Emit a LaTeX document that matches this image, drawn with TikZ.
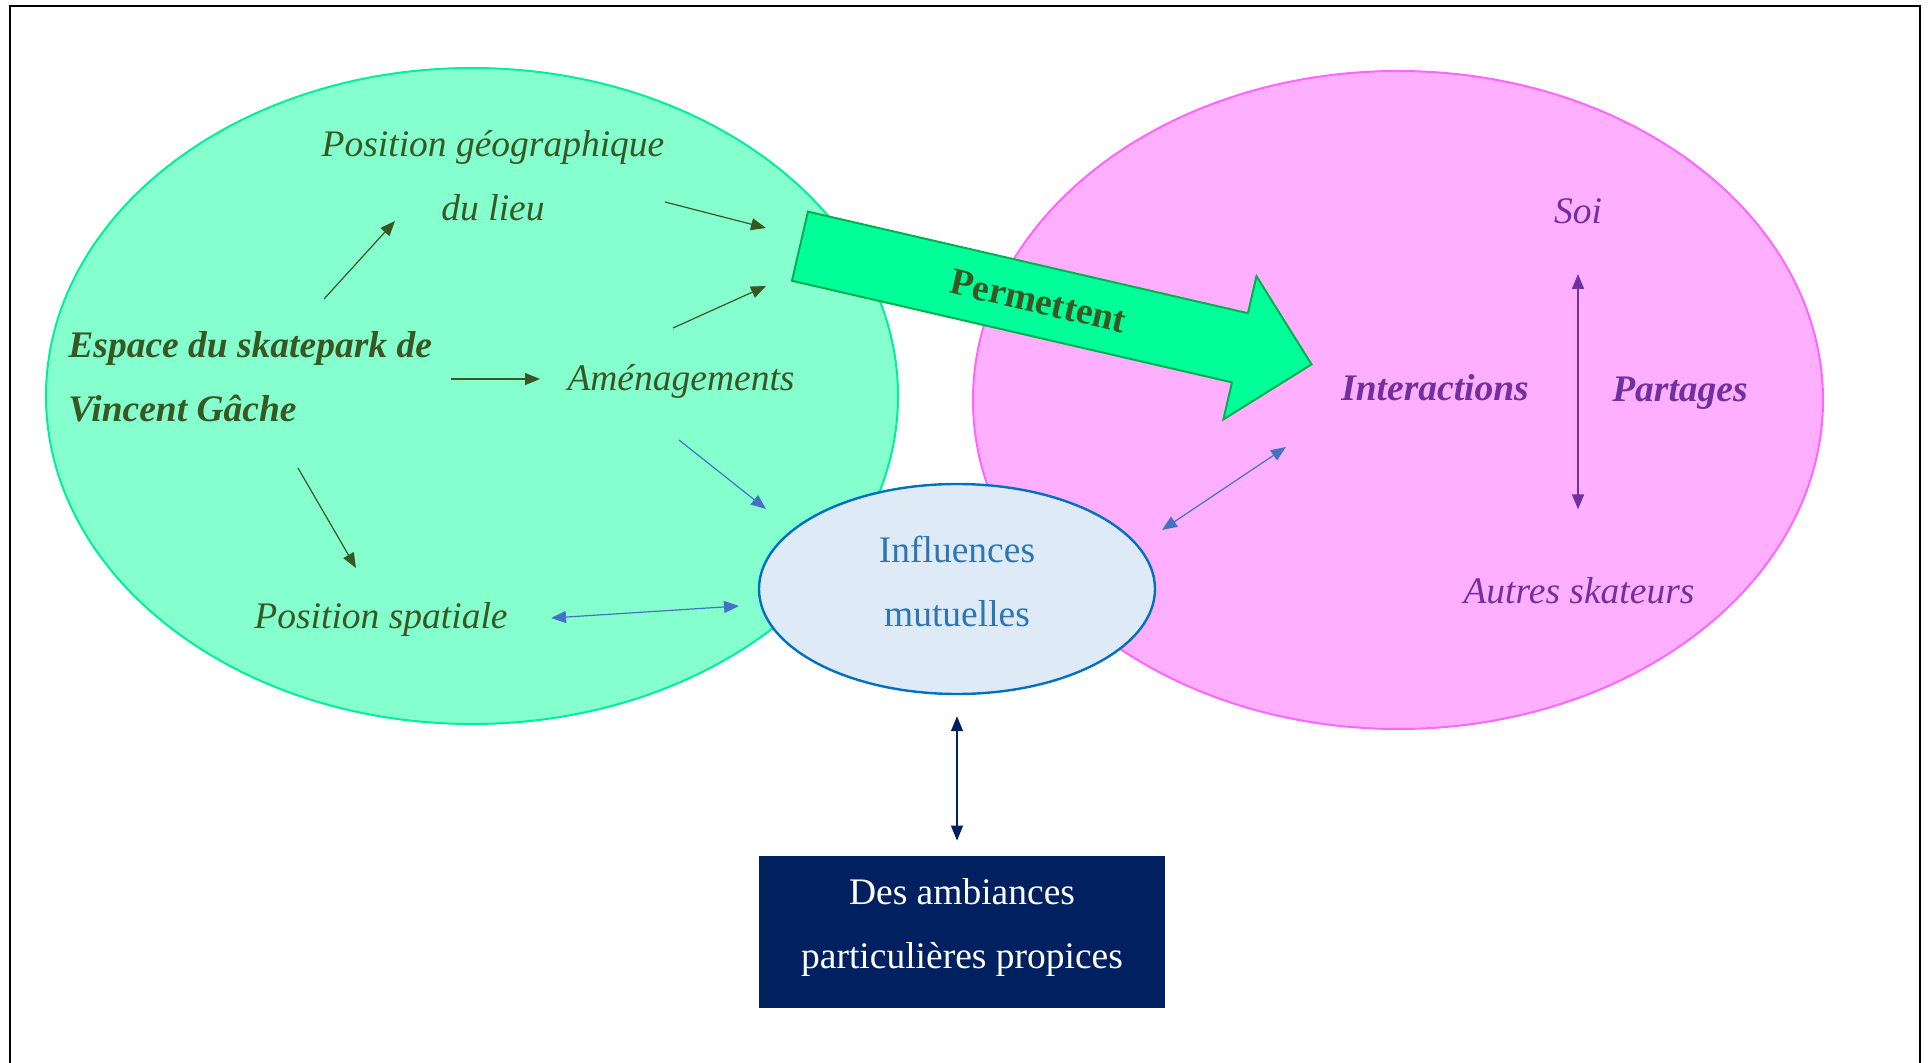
\documentclass[tikz,border=0pt]{standalone}
\usepackage{fontspec}
\setmainfont{Liberation Serif}
\usetikzlibrary{shapes.geometric, shapes.arrows, arrows.meta, positioning}
\definecolor{mint}{HTML}{85FFCE}
\definecolor{mintline}{HTML}{00F09A}
\definecolor{rose}{HTML}{FFAFFF}
\definecolor{roseline}{HTML}{FF66FF}
\definecolor{arrowfill}{HTML}{00FF99}
\definecolor{arrowline}{HTML}{00B050}
\definecolor{darkolive}{HTML}{385723}
\definecolor{purp}{HTML}{7030A0}
\definecolor{bluearr}{HTML}{4472C4}
\definecolor{inflfill}{HTML}{DEEAF6}
\definecolor{inflline}{HTML}{0070C0}
\definecolor{infltext}{HTML}{2E75B6}
\definecolor{navy}{HTML}{002060}
\begin{document}
\begin{tikzpicture}[x=0.5pt, y=-0.5pt, >={Triangle[length=7.5pt, width=6pt]},
    every node/.style={font=\fontsize{18.75}{32}\selectfont, inner sep=0pt}]
    \tikzstyle{zone} = [ellipse, draw, line width=1pt]
    \tikzstyle{vert} = [text=darkolive, font=\fontsize{18.75}{32}\selectfont\itshape]
    \tikzstyle{mauve} = [text=purp, font=\fontsize{18.75}{32}\selectfont\itshape]
    \tikzstyle{fort} = [font=\fontsize{18.75}{32}\selectfont\bfseries\itshape]
    \useasboundingbox (0,0) rectangle (1932,1063);
    \draw [line width=1pt] (10,1063) -- (10,6) -- (1920,6) -- (1920,1063);

    \node [zone, fill=mint, draw=mintline, minimum width=426pt, minimum height=328pt] (g) at (472,396) {};
    \node [zone, fill=rose, draw=roseline, minimum width=425pt, minimum height=329pt] (p) at (1398,400) {};
    \node [single arrow, draw=arrowline, fill=arrowfill, line width=1pt, minimum height=262.5pt,
        inner ysep=11pt, minimum width=73pt, single arrow head extend=19pt, rotate=-13, anchor=tail,
        text=darkolive, font=\fontsize{18.75}{32}\selectfont\bfseries] (pe) at (799,246) {Permettent};
    \node [ellipse, draw=inflline, fill=inflfill, line width=1.2pt, minimum width=198pt, minimum height=105pt,
        label={[text=infltext, align=center, yshift=3.7pt]center:Influences\\mutuelles}] (i) at (957,589) {};
    \node [fill=navy, minimum width=203pt, minimum height=76pt,
        label={[text=white, align=center, yshift=2.5pt]center:Des ambiances\\particulières propices}] (a) at (962,932) {};

    \node [vert, align=center] (pg) at (493,176) {Position géographique\\du lieu};
    \node [vert, fort, align=left, anchor=west] (e) at (68,377) {Espace du skatepark de\\Vincent Gâche};
    \node [vert] (am) at (681,381) {Aménagements};
    \node [vert] (ps) at (381,619) {Position spatiale};
    \node [mauve] (s) at (1578,211) {Soi};
    \node [mauve, fort] (it) at (1435,388) {Interactions};
    \node [mauve, fort] (pa) at (1680,393) {Partages};
    \node [mauve] (as) at (1579,591) {Autres skateurs};

    \draw [->, darkolive, line width=0.6pt] ([shift={(256,-78)}]e.west) -- ([shift={(-98,45)}]pg.center);
    \draw [->, darkolive, line width=0.6pt] ([shift={(172,26)}]pg.center) -- ([shift={(-33,-18)}]pe.tail);
    \draw [->, darkolive, line width=0.6pt] ([shift={(-8,-53)}]am.center) -- ([shift={(-33,40)}]pe.tail);
    \draw [->, darkolive, line width=0.6pt] ([shift={(383,2)}]e.west) -- ([shift={(-141,-2)}]am.center);
    \draw [->, darkolive, line width=0.6pt] ([shift={(230,91)}]e.west) -- ([shift={(-25,-51)}]ps.center);
    \draw [->, bluearr, line width=0.6pt] ([shift={(-2,59)}]am.center) -- ([shift={(-191,-80)}]i.center);
    \draw [<->, bluearr, line width=0.6pt] ([shift={(170,-1)}]ps.center) -- ([shift={(-218,17)}]i.center);
    \draw [<->, bluearr, line width=0.6pt] ([shift={(205,-59)}]i.center) -- ([shift={(-149,59)}]it.center);
    \draw [<->, navy, line width=0.7pt, shorten <=10.5pt, shorten >=7.5pt] (i.south) -- (i.south |- a.north);
    \draw [<->, purp, line width=0.8pt, shorten <=25pt, shorten >=34pt] (s.south) -- (s.south |- as.north);
\end{tikzpicture}
\end{document}
